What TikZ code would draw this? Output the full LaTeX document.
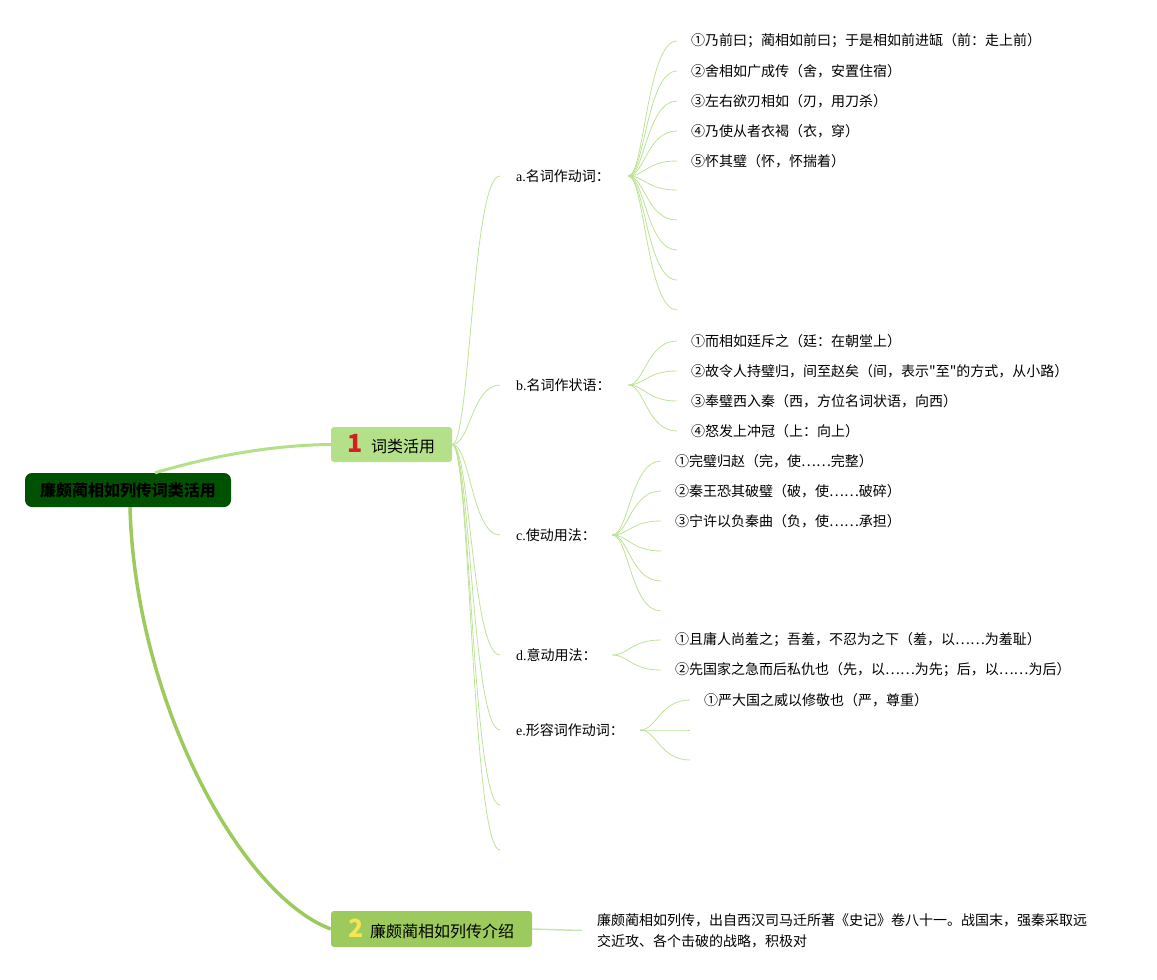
\documentclass[tikz,border=0pt]{standalone}
\usepackage{fontspec}
\setmainfont{Liberation Serif}
\newfontfamily\cjk{Noto Sans CJK SC}
\definecolor{thinline}{RGB}{190,226,150}
\definecolor{onefill}{RGB}{181,224,138}
\definecolor{twofill}{RGB}{156,202,92}
\definecolor{rootfill}{RGB}{0,82,0}
\definecolor{numred}{RGB}{214,30,36}
\definecolor{numyellow}{RGB}{246,228,80}
\definecolor{descline}{RGB}{200,230,175}
\begin{document}
\begin{tikzpicture}[x=1pt,y=-1pt,
  leaf/.style={anchor=west,inner xsep=14pt,inner ysep=2pt,font=\cjk\fontsize{14}{17}\selectfont},
  lbl/.style={anchor=west,inner xsep=16pt,inner ysep=2pt,align=left,font=\fontsize{14}{17}\selectfont},
  thin/.style={draw=thinline,line width=0.8pt},
  fork/.style={to path={.. controls ([xshift=16pt]\tikztostart) and ([xshift=-30pt]\tikztotarget) .. (\tikztotarget)}},
  trunk/.style={to path={.. controls ([xshift=18pt]\tikztostart) and ([xshift=-28pt]\tikztotarget) .. (\tikztotarget)}},
  box/.style={rounded corners=3pt,inner sep=0pt,font=\cjk\fontsize{16}{18}\selectfont}
]
\useasboundingbox (0,0) rectangle (1157,980);

% main nodes
\node[box,fill=rootfill,minimum width=206pt,minimum height=34pt,rounded corners=7pt,font=\cjk\bfseries\fontsize{16}{18}\selectfont] (root) at (128,490) {廉颇蔺相如列传词类活用};
\node[box,fill=onefill,minimum width=121pt,minimum height=35pt] (n1) at (391.5,444.5) {{\bfseries\fontsize{25}{25}\selectfont\color{numred}1}\hspace{8pt}词类活用};
\node[box,fill=twofill,minimum width=201pt,minimum height=36pt] (n2) at (431.5,929) {{\bfseries\fontsize{25}{25}\selectfont\color{numyellow}2}\hspace{6pt}廉颇蔺相如列传介绍};

\draw[draw=onefill,line width=3pt] ([xshift=27pt]root.north) .. controls (215,455) and (275,445) .. (n1.west);
\draw[draw=twofill,line width=3.5pt] ([xshift=2pt]root.south) .. controls (135,700) and (240,895) .. (n2.west);

\node[anchor=west,inner xsep=15pt,align=left,font=\cjk\fontsize{14}{21}\selectfont] (desc) at (582,930.5) {廉颇蔺相如列传，出自西汉司马迁所著《史记》卷八十一。战国末，强秦采取远\\交近攻、各个击破的战略，积极对};
\draw[draw=descline,line width=1.5pt] (n2.east) -- (desc.west);

% level-2 labels
\node[lbl,text width=96pt] (la) at (500,176) {a.{\cjk 名词作动词：}};
\node[lbl,text width=96pt] (lb) at (500,385) {b.{\cjk 名词作状语：}};
\node[lbl,text width=80pt] (lc) at (500,535) {c.{\cjk 使动用法：}};
\node[lbl,text width=80pt] (ld) at (500,655) {d.{\cjk 意动用法：}};
\node[lbl,text width=108pt] (le) at (500,730) {e.{\cjk 形容词作动词：}};
\coordinate (lf) at (500,805);
\coordinate (lg) at (500,850);

\foreach \t in {la,lb,lc,ld,le,lf,lg} \draw[thin] (n1.east) to[trunk] (\t.west);

% a children
\node[leaf] (a1) at (677,41) {①乃前曰；蔺相如前曰；于是相如前进缻（前：走上前）};
\node[leaf] (a2) at (677,71) {②舍相如广成传（舍，安置住宿）};
\node[leaf] (a3) at (677,101) {③左右欲刃相如（刃，用刀杀）};
\node[leaf] (a4) at (677,131) {④乃使从者衣褐（衣，穿）};
\node[leaf] (a5) at (677,161) {⑤怀其璧（怀，怀揣着）};
\coordinate (a6) at (677,190);
\coordinate (a7) at (677,220);
\coordinate (a8) at (677,250);
\coordinate (a9) at (677,280);
\coordinate (a10) at (677,310);
\foreach \t in {a1,a2,a3,a4,a5,a6,a7,a8,a9,a10} \draw[thin] (la.east) to[fork] (\t.west);

% b children
\node[leaf] (b1) at (677,341) {①而相如廷斥之（廷：在朝堂上）};
\node[leaf] (b2) at (677,371) {②故令人持璧归，间至赵矣（间，表示"至"的方式，从小路）};
\node[leaf] (b3) at (677,401) {③奉璧西入秦（西，方位名词状语，向西）};
\node[leaf] (b4) at (677,431) {④怒发上冲冠（上：向上）};
\foreach \t in {b1,b2,b3,b4} \draw[thin] (lb.east) to[fork] (\t.west);

% c children
\node[leaf] (c1) at (661,461) {①完璧归赵（完，使……完整）};
\node[leaf] (c2) at (661,491) {②秦王恐其破璧（破，使……破碎）};
\node[leaf] (c3) at (661,521) {③宁许以负秦曲（负，使……承担）};
\coordinate (c4) at (661,551);
\coordinate (c5) at (661,581);
\coordinate (c6) at (661,611);
\foreach \t in {c1,c2,c3,c4,c5,c6} \draw[thin] (lc.east) to[fork] (\t.west);

% d children
\node[leaf] (d1) at (661,640) {①且庸人尚羞之；吾羞，不忍为之下（羞，以……为羞耻）};
\node[leaf] (d2) at (661,670) {②先国家之急而后私仇也（先，以……为先；后，以……为后）};
\foreach \t in {d1,d2} \draw[thin] (ld.east) to[fork] (\t.west);

% e children
\node[leaf] (e1) at (690,700) {①严大国之威以修敬也（严，尊重）};
\coordinate (e2) at (690,730);
\coordinate (e3) at (690,760);
\foreach \t in {e1,e2,e3} \draw[thin] (le.east) to[fork] (\t.west);
\end{tikzpicture}
\end{document}
